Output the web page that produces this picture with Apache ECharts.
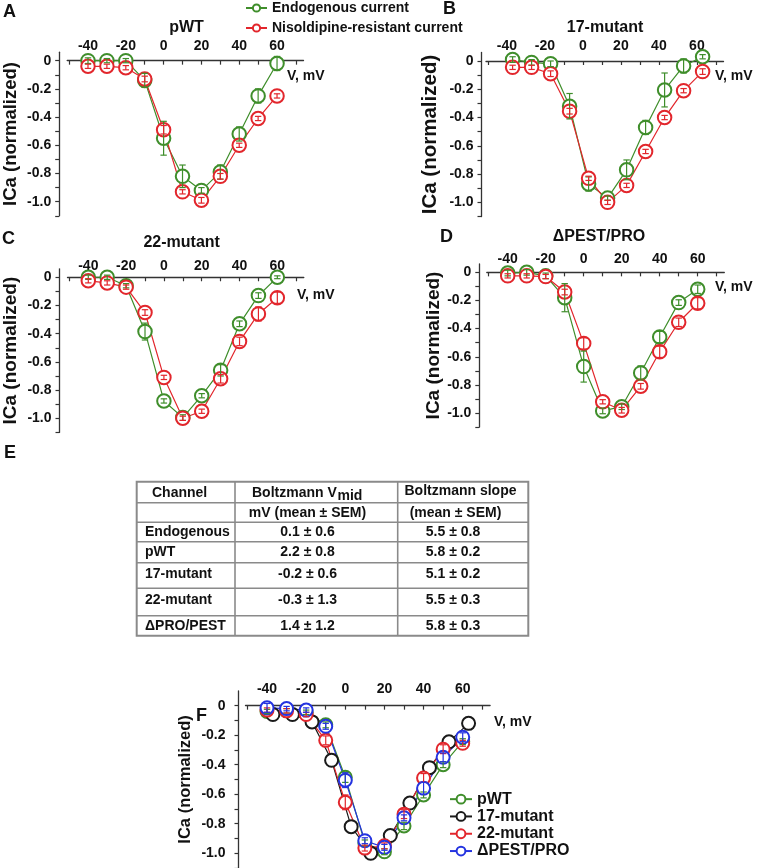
<!DOCTYPE html>
<html><head><meta charset="utf-8">
<script src="https://cdn.jsdelivr.net/npm/echarts@6/dist/echarts.min.js"></script>
<style>html,body{margin:0;padding:0;background:#fff}#c{width:757px;height:868px}</style>
</head><body><div id="c"></div>
<script>
// ---------------- DATA ----------------
const voltage   = [-40,-30,-20,-10,0,10,20,30,40,50,60];
const voltage17 = [-37,-27,-17,-7,3,13,23,33,43,53,63];
const xTickLabels = [-40,-20,0,20,40,60];
const xTickMarks  = [-50,-40,-30,-20,-10,0,10,20,30,40,50,60,70];
const yTickLabels = [0,-0.2,-0.4,-0.6,-0.8,-1.0];
const yTickMarks  = [0,-0.1,-0.2,-0.3,-0.4,-0.5,-0.6,-0.7,-0.8,-0.9,-1.0,-1.1];

// A: pWT
const pWT_endo     = [0.0,0.0,0.0,-0.14,-0.55,-0.82,-0.92,-0.79,-0.52,-0.25,-0.02];
const pWT_endo_err = [0.02,0.015,0.015,0.05,0.12,0.08,0.02,0.05,0.05,0.05,0.05];
const pWT_niso     = [-0.04,-0.04,-0.05,-0.13,-0.49,-0.93,-0.99,-0.82,-0.60,-0.41,-0.25];
const pWT_niso_err = [0.015,0.015,0.015,0.02,0.03,0.015,0.02,0.02,0.015,0.015,0.015];
// B: 17-mutant
const m17_endo     = [0.01,-0.01,-0.02,-0.32,-0.87,-0.97,-0.77,-0.47,-0.205,-0.035,0.03];
const m17_endo_err = [0.02,0.02,0.02,0.09,0.05,0.015,0.07,0.05,0.12,0.05,0.015];
const m17_niso     = [-0.045,-0.045,-0.09,-0.355,-0.83,-1.0,-0.88,-0.64,-0.40,-0.21,-0.075];
const m17_niso_err = [0.015,0.015,0.02,0.02,0.015,0.015,0.015,0.015,0.015,0.015,0.02];
// C: 22-mutant
const m22_endo     = [0.0,0.0,-0.06,-0.385,-0.877,-0.995,-0.84,-0.66,-0.33,-0.13,0.0];
const m22_endo_err = [0.015,0.015,0.015,0.06,0.015,0.02,0.015,0.04,0.02,0.02,0.01];
const m22_niso     = [-0.025,-0.04,-0.07,-0.25,-0.71,-1.0,-0.95,-0.72,-0.455,-0.26,-0.145];
const m22_niso_err = [0.015,0.015,0.015,0.02,0.015,0.015,0.015,0.03,0.03,0.05,0.04];
// D: ΔPEST/PRO
const dPEST_endo     = [-0.005,0.0,-0.025,-0.18,-0.67,-0.985,-0.955,-0.715,-0.46,-0.215,-0.12];
const dPEST_endo_err = [0.02,0.02,0.02,0.1,0.11,0.02,0.02,0.05,0.04,0.02,0.03];
const dPEST_niso     = [-0.025,-0.025,-0.03,-0.14,-0.505,-0.92,-0.98,-0.81,-0.565,-0.355,-0.22];
const dPEST_niso_err = [0.015,0.015,0.015,0.02,0.04,0.015,0.02,0.02,0.04,0.03,0.04];
// F: comparison of nisoldipine-resistant currents
const F_pWT      = [-0.04,-0.035,-0.045,-0.13,-0.485,-0.93,-0.99,-0.815,-0.605,-0.40,-0.244];
const F_pWT_err  = [0.015,0.015,0.015,0.02,0.035,0.02,0.02,0.025,0.02,0.02,0.02];
const F_17       = [-0.06,-0.06,-0.11,-0.37,-0.82,-1.0,-0.88,-0.66,-0.42,-0.245,-0.12];
const F_17_err   = [0,0,0,0,0,0,0,0,0,0,0];
const F_22       = [-0.03,-0.035,-0.06,-0.235,-0.655,-0.965,-0.95,-0.735,-0.49,-0.295,-0.255];
const F_22_err   = [0.015,0.015,0.015,0.03,0.05,0.02,0.02,0.03,0.03,0.03,0.02];
const F_PEST     = [-0.015,-0.02,-0.03,-0.14,-0.505,-0.915,-0.96,-0.76,-0.56,-0.35,-0.214];
const F_PEST_err = [0.03,0.015,0.015,0.02,0.05,0.02,0.02,0.02,0.04,0.03,0.03];

// E: table
const tableChannels = ['Endogenous','pWT','17-mutant','22-mutant','\u0394PRO/PEST'];
const tableVmid  = ['0.1 \u00b1 0.6','2.2 \u00b1 0.8','-0.2 \u00b1 0.6','-0.3 \u00b1 1.3','1.4 \u00b1 1.2'];
const tableSlope = ['5.5 \u00b1 0.8','5.8 \u00b1 0.2','5.1 \u00b1 0.2','5.5 \u00b1 0.3','5.8 \u00b1 0.3'];

// ---------------- STYLE / LAYOUT ----------------
const FONT = '"Liberation Sans", Arial, Helvetica, sans-serif';
const GREEN = '#3f8e2b', RED = '#e2262c', BLACK = '#1a1a1a', BLUE = '#2433e0';
const AX = '#333';
const ENDO = 'Endogenous current', NISO = 'Nisoldipine-resistant current';

const panels = [
  { grid:{left:67.2, top:52.2, width:236.3, height:163.6}, ymax:0.06, off:8, nameSize:18.5, nameGap:39, sym:13.5, lab:14, labM:8, xM:-1,
    series:[{name:ENDO,color:GREEN,x:voltage,y:pWT_endo,e:pWT_endo_err},{name:NISO,color:RED,x:voltage,y:pWT_niso,e:pWT_niso_err}]},
  { grid:{left:486, top:52.5, width:237.5, height:164}, ymax:0.06, off:4.5, nameSize:20.5, nameGap:41, sym:13.5, lab:14, labM:8, xM:-0.5,
    series:[{name:ENDO,color:GREEN,x:voltage17,y:m17_endo,e:m17_endo_err},{name:NISO,color:RED,x:voltage17,y:m17_niso,e:m17_niso_err}]},
  { grid:{left:67.5, top:268.8, width:236.3, height:163.6}, ymax:0.06, off:8, nameSize:19, nameGap:39, sym:13.5, lab:14, labM:8, xM:-4,
    series:[{name:ENDO,color:GREEN,x:voltage,y:m22_endo,e:m22_endo_err},{name:NISO,color:RED,x:voltage,y:m22_niso,e:m22_niso_err}]},
  { grid:{left:486.8, top:263.9, width:237.5, height:163.2}, ymax:0.06, off:7.5, nameSize:19, nameGap:35, sym:13.5, lab:14, labM:8, xM:-2.4,
    series:[{name:ENDO,color:GREEN,x:voltage,y:dPEST_endo,e:dPEST_endo_err},{name:NISO,color:RED,x:voltage,y:dPEST_niso,e:dPEST_niso_err}]},
  { grid:{left:245.5, top:690.9, width:244.6, height:177.1}, ymax:0.1, off:7, nameSize:16.5, nameGap:45, sym:13, lab:14, labM:13, xM:-5.4,
    series:[{name:'pWT',color:GREEN,x:voltage,y:F_pWT,e:F_pWT_err},{name:'17-mutant',color:BLACK,x:voltage17,y:F_17,e:F_17_err},
            {name:'22-mutant',color:RED,x:voltage,y:F_22,e:F_22_err},{name:'\u0394PEST/PRO',color:BLUE,x:voltage,y:F_PEST,e:F_PEST_err}]}
];

const grids=[], xAxes=[], yAxes=[], series=[];
const yFmt = v => Math.abs(v) < 1e-9 ? '0' : Number(v).toFixed(1);

function errRenderer(color){
  return function(params, api){
    const x = api.value(0), y = api.value(1), e = api.value(2);
    if (!(e > 0)) return null;
    const t = api.coord([x, y + e]), b = api.coord([x, y - e]);
    const hw = 3.2, st = {stroke: color, lineWidth: 1.2};
    return {type:'group', children:[
      {type:'line', shape:{x1:t[0],y1:t[1],x2:b[0],y2:b[1]}, style:st},
      {type:'line', shape:{x1:t[0]-hw,y1:t[1],x2:t[0]+hw,y2:t[1]}, style:st},
      {type:'line', shape:{x1:b[0]-hw,y1:b[1],x2:b[0]+hw,y2:b[1]}, style:st}
    ]};
  };
}

panels.forEach((p, i) => {
  grids.push(Object.assign({containLabel:false, outerBoundsMode:'none'}, p.grid));
  xAxes.push({
    type:'value', gridIndex:i, min:-51, max:74, position:'top',
    axisLine:{show:true, onZero:true, lineStyle:{color:AX, width:1.3}},
    axisTick:{show:true, inside:true, length:4, customValues:xTickMarks, lineStyle:{color:AX, width:1.2}},
    axisLabel:{show:true, customValues:xTickLabels, margin:p.xM, color:'#111', fontFamily:FONT, fontWeight:'bold', fontSize:p.lab},
    splitLine:{show:false}, minorTick:{show:false}
  });
  yAxes.push({
    type:'value', gridIndex:i, min:-1.1, max:p.ymax, offset:p.off,
    axisLine:{show:true, onZero:false, lineStyle:{color:AX, width:1.3}},
    axisTick:{show:true, inside:false, length:4, customValues:yTickMarks, lineStyle:{color:AX, width:1.2}},
    axisLabel:{show:true, customValues:yTickLabels, formatter:yFmt, margin:p.labM, color:'#111', fontFamily:FONT, fontWeight:'bold', fontSize:p.lab},
    splitLine:{show:false},
    name:'ICa (normalized)', nameLocation:'middle', nameGap:p.nameGap,
    nameTextStyle:{color:'#111', fontFamily:FONT, fontWeight:'bold', fontSize:p.nameSize}
  });
  p.series.forEach(s => {
    series.push({
      type:'line', name:s.name, xAxisIndex:i, yAxisIndex:i, z:2,
      data:s.x.map((v,k)=>[v, s.y[k]]),
      symbol:'emptyCircle', symbolSize:p.sym, showAllSymbol:true,
      lineStyle:{color:s.color, width:1.2},
      itemStyle:{color:s.color, borderColor:s.color, borderWidth:1.5},
      emphasis:{disabled:true}, animation:false
    });
  });
  p.series.forEach(s => {
    series.push({
      type:'custom', name:s.name + ' SEM', xAxisIndex:i, yAxisIndex:i, z:3,
      data:s.x.map((v,k)=>[v, s.y[k], s.e[k]]),
      renderItem:errRenderer(s.color), encode:{x:0, y:1}, animation:false, silent:true
    });
  });
});

// ---------- texts (labels, titles) ----------
const G = [];
function txt(text, x, y, size, align, extra){
  G.push(Object.assign({type:'text', silent:true, style:{
    text, x, y, fill:'#111', font:'bold '+size+'px '+FONT,
    textAlign:align||'left', align:align||'left', textVerticalAlign:'middle', verticalAlign:'middle'}}, extra||{}));
}
// panel letters
txt('A', 3, 12, 18); txt('B', 443, 9, 18); txt('C', 2, 239, 18); txt('D', 440, 237.5, 18);
txt('E', 4, 453, 18); txt('F', 196, 716, 18);
// titles
txt('pWT', 186.5, 28, 16, 'center'); txt('17-mutant', 605, 28, 16, 'center');
txt('22-mutant', 181.7, 242.5, 16, 'center'); txt('\u0394PEST/PRO', 599, 236.7, 16, 'center');
// axis units
txt('V, mV', 287, 76, 14); txt('V, mV', 715, 76, 14); txt('V, mV', 297, 295.5, 14);
txt('V, mV', 715, 287.5, 14); txt('V, mV', 494, 722, 14);

// ---------- table E ----------
const TB = {l:136.7, r:528.3, t:481.7, b:635.7, c1:235, c2:397.7};
const hLines = [502.7, 522.3, 541.7, 562.7, 588.3, 615.7];
const rowY = [532.3, 551.7, 574.3, 600, 626];
const lineSt = {stroke:'#8a8a8a', lineWidth:1.6};
G.push({type:'rect', silent:true, shape:{x:TB.l, y:TB.t, width:TB.r-TB.l, height:TB.b-TB.t}, style:{fill:'none', stroke:'#8a8a8a', lineWidth:2}});
G.push({type:'line', silent:true, shape:{x1:TB.c1,y1:TB.t,x2:TB.c1,y2:TB.b}, style:lineSt});
G.push({type:'line', silent:true, shape:{x1:TB.c2,y1:TB.t,x2:TB.c2,y2:TB.b}, style:lineSt});
hLines.forEach(y => G.push({type:'line', silent:true, shape:{x1:TB.l,y1:y,x2:TB.r,y2:y}, style:lineSt}));
txt('Channel', 152, 492.7, 14);
txt('Boltzmann V', 252, 492.7, 14);
txt('mid', 337.5, 496, 14);
txt('Boltzmann slope', 460.5, 491.5, 14, 'center');
txt('mV (mean \u00b1 SEM)', 307.5, 513, 14, 'center');
txt('(mean \u00b1 SEM)', 455.5, 513, 14, 'center');
tableChannels.forEach((c,k) => {
  txt(c, 145, rowY[k], 14);
  txt(tableVmid[k], 307.5, rowY[k], 14, 'center');
  txt(tableSlope[k], 453, rowY[k], 14, 'center');
});

const option = {
  animation:false,
  backgroundColor:'#fff',
  textStyle:{fontFamily:FONT},
  grid:grids, xAxis:xAxes, yAxis:yAxes, series,
  legend:[
    {data:[ENDO, NISO], orient:'vertical', left:245, top:1, padding:0, itemGap:6, itemWidth:21, itemHeight:9,
     selectedMode:false, textStyle:{fontFamily:FONT, fontWeight:'bold', fontSize:14, color:'#111', lineHeight:14}},
    {data:['pWT','17-mutant','22-mutant','\u0394PEST/PRO'], orient:'vertical', left:449, top:791, height:77, padding:0, itemGap:1, itemWidth:22, itemHeight:11,
     selectedMode:false, textStyle:{fontFamily:FONT, fontWeight:'bold', fontSize:16, color:'#111', lineHeight:16.3}}
  ],
  graphic:G
};
const chart = echarts.init(document.getElementById('c'), null, {renderer:'canvas'});
chart.setOption(option);
</script></body></html>
